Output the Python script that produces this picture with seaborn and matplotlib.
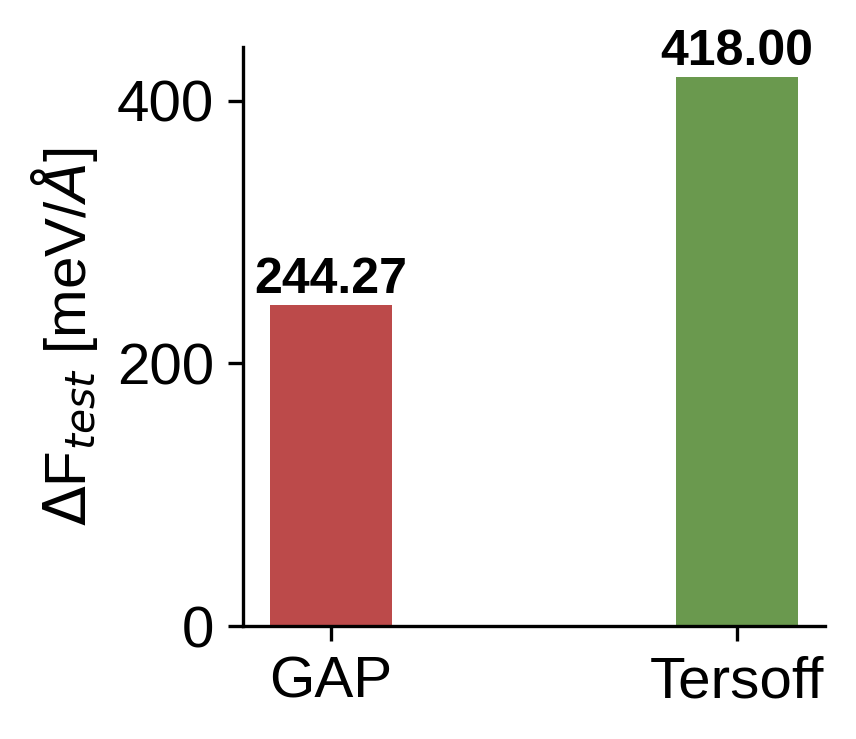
import pandas as pd
import matplotlib
matplotlib.use("Agg")
import matplotlib.pyplot as plt
import seaborn as sns

modelos = ["GAP", "Tersoff"]
erros = [244.27, 418.00]
cores = ["#BC4A4A", "#6A994E"]

sns.set_style("ticks")
plt.rcParams["font.family"] = ["Liberation Sans", "DejaVu Sans"]
plt.rcParams["text.color"] = "black"
plt.rcParams["axes.labelcolor"] = "black"
plt.rcParams["xtick.color"] = "black"
plt.rcParams["ytick.color"] = "black"
plt.rcParams["axes.edgecolor"] = "black"

df = pd.DataFrame({"modelo": modelos, "erro": erros})

fig = plt.figure(figsize=(857 / 300, 739 / 300), dpi=300)
ax = fig.add_axes([0.2836, 0.1529, 0.9627 - 0.2836, 0.9364 - 0.1529])

sns.barplot(data=df, x="modelo", y="erro", hue="modelo", palette=cores,
            width=0.3, legend=False, ax=ax, saturation=1, linewidth=0)

for cont in ax.containers:
    ax.bar_label(cont, fmt="%.2f", fontsize=12, fontweight="bold", padding=0.5)

ax.set_xlim(-0.217, 1.217)
ax.set_ylim(0, 441)
ax.set_yticks([0, 200, 400])
ax.set_xlabel("")
ax.set_ylabel(r"$\Delta$F$_{test}$ [meV/$\AA$]", fontsize=14)
ax.tick_params(labelsize=14, width=0.8, length=3.5)
for s in ["left", "bottom"]:
    ax.spines[s].set_linewidth(0.8)
sns.despine(ax=ax)

fig.savefig("out.png", dpi=300)
